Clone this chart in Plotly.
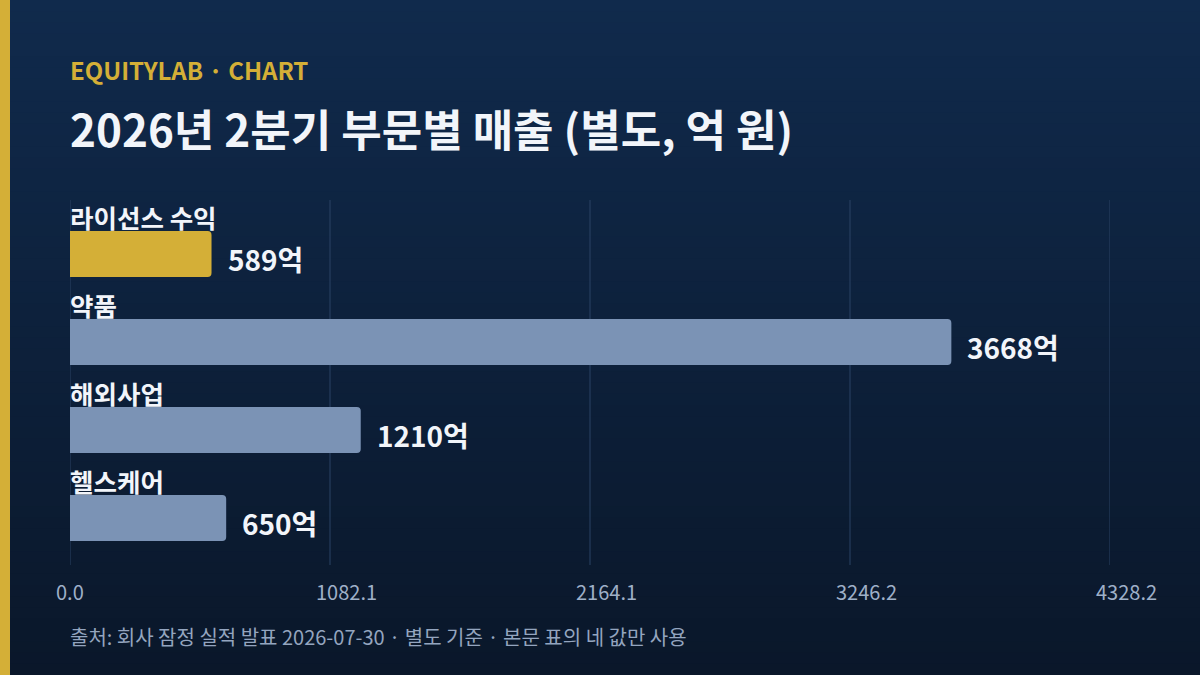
import plotly.graph_objects as go

# data
segments = ["라이선스 수익", "약품", "해외사업", "헬스케어"]
sales = [589, 3668, 1210, 650]
bar_colors = ["#d4af37", "#7b93b5", "#7b93b5", "#7b93b5"]

axis_max = max(sales) * 1.18
tick_vals = [axis_max * i / 4 for i in range(5)]
tick_text = ["%.1f" % v for v in tick_vals]

W, H = 1200, 675
ml, mr, mt, mb = 70, 90, 200, 110
pw, ph = W - ml - mr, H - mt - mb


def px(x):
    return (x - ml) / pw


def py(y):
    return (H - mb - y) / ph


FONT = "Noto Sans CJK KR"

fig = go.Figure()
fig.add_trace(go.Bar(
    y=list(range(len(segments))),
    x=sales,
    orientation="h",
    width=0.523,
    marker=dict(color=bar_colors, line=dict(width=0), cornerradius=4),
    hoverinfo="skip",
))

# background gradient (top -> bottom)
shapes = []
top = (16, 42, 76)
bot = (10, 23, 42)
n = 60
for i in range(n):
    t = i / (n - 1)
    c = tuple(round(top[k] + (bot[k] - top[k]) * t) for k in range(3))
    y0 = H * i / n
    y1 = H * (i + 1) / n + 1
    shapes.append(dict(type="rect", xref="paper", yref="paper", layer="below",
                       x0=px(0), x1=px(W), y0=py(y1), y1=py(y0),
                       fillcolor="rgb(%d,%d,%d)" % c, line=dict(width=0)))
# vertical gridlines, incl. both ends of the range
for v in tick_vals:
    shapes.append(dict(type="line", xref="x", yref="paper", layer="below",
                       x0=v, x1=v, y0=0, y1=1,
                       line=dict(color="#2a4264", width=1)))
# gold stripe on the left
shapes.append(dict(type="rect", xref="paper", yref="paper", layer="above",
                   x0=px(0), x1=px(10), y0=py(H), y1=py(0),
                   fillcolor="#d4af37", line=dict(width=0)))

annotations = [
    dict(text="EQUITYLAB · CHART", x=0, y=py(69), xref="paper", yref="paper",
         xanchor="left", yanchor="middle", showarrow=False, xshift=-2,
         font=dict(family=FONT, size=24, color="#d4af37", weight=700)),
    dict(text="2026년 2분기 부문별 매출 (별도, 억 원)", x=0, y=py(128),
         xref="paper", yref="paper", xanchor="left", yanchor="middle",
         showarrow=False, xshift=-2,
         font=dict(family=FONT, size=44, color="#f2f5fa", weight=700)),
    dict(text="출처: 회사 잠정 실적 발표 2026-07-30 · 별도 기준 · 본문 표의 네 값만 사용",
         x=0, y=py(636), xref="paper", yref="paper", xanchor="left",
         yanchor="middle", showarrow=False, xshift=-2,
         font=dict(family=FONT, size=20, color="#94a5bf")),
]
# x tick labels, left-aligned just before each gridline
for v, t in zip(tick_vals, tick_text):
    annotations.append(dict(
        text=t, x=v, y=py(591), xref="x", yref="paper", xanchor="left",
        yanchor="middle", showarrow=False, xshift=-16,
        font=dict(family=FONT, size=20, color="#9fb0c8")))
for i, (name, val) in enumerate(zip(segments, sales)):
    annotations.append(dict(
        text=name, x=0, y=i - 0.43, xref="x", yref="y", xshift=-2,
        xanchor="left", yanchor="middle", showarrow=False,
        font=dict(family=FONT, size=25.5, color="#f2f5fa", weight=700)))
    annotations.append(dict(
        text="%d억" % val, x=val, y=i, xref="x", yref="y", xshift=14, yshift=-5,
        xanchor="left", yanchor="middle", showarrow=False,
        font=dict(family=FONT, size=28, color="#f2f5fa", weight=700)))

fig.update_layout(
    width=W, height=H,
    margin=dict(l=ml, r=mr, t=mt, b=mb),
    paper_bgcolor="#0b1a30",
    plot_bgcolor="rgba(0,0,0,0)",
    showlegend=False,
    shapes=shapes,
    annotations=annotations,
    font=dict(family=FONT),
    xaxis=dict(range=[0, axis_max], showgrid=False, zeroline=False,
               showline=False, ticks="", showticklabels=False,
               fixedrange=True),
    yaxis=dict(range=[3.534, -0.614], showgrid=False, zeroline=False,
               showticklabels=False, showline=False, fixedrange=True),
)

fig.write_html("out.html", config={"displayModeBar": False},
               post_script="document.body.style.margin='0';")
